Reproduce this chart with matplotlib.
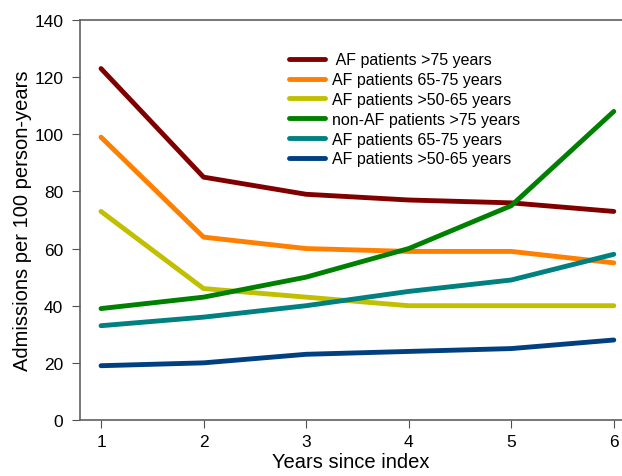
import matplotlib
matplotlib.use("Agg")
import matplotlib.pyplot as plt

plt.rcParams['font.family'] = ['Liberation Sans', 'DejaVu Sans']

# data
years = [1, 2, 3, 4, 5, 6]
labels = [" AF patients >75 years", "AF patients 65-75 years", "AF patients >50-65 years",
          "non-AF patients >75 years", "AF patients 65-75 years", "AF patients >50-65 years"]
af_75 = [123, 85, 79, 77, 76, 73]
af_65_75 = [99, 64, 60, 59, 59, 55]
af_50_65 = [73, 46, 43, 40, 40, 40]
nonaf_75 = [39, 43, 50, 60, 75, 108]
nonaf_65_75 = [33, 36, 40, 45, 49, 58]
nonaf_50_65 = [19, 20, 23, 24, 25, 28]
colors = ["#800000", "#ff8000", "#c0c000", "#008000", "#008080", "#003f80"]

fig = plt.figure(figsize=(6.22, 4.77), dpi=100)
ax = fig.add_axes([80/622, 56/477, 1 - 80/622, 400/477])

series = [af_75, af_65_75, af_50_65, nonaf_75, nonaf_65_75, nonaf_50_65]
for vals, lab, col in zip(series, labels, colors):
    ax.plot(years, vals, color=col, lw=3.5, label=lab, solid_capstyle='round')

ax.set_xlim(0.795, 6.08)
ax.set_ylim(0, 140)
ax.set_xticks(years)
ax.set_yticks(range(0, 141, 20))
ax.spines['right'].set_visible(False)
for s in ['left', 'bottom', 'top']:
    ax.spines[s].set_color('#606060')
    ax.spines[s].set_linewidth(1.2)
ax.tick_params(direction='out', length=6, color='#505050', labelsize=12.5, pad=4)
ax.tick_params(axis='y', pad=6)
ax.set_xlabel("Years since index", fontsize=14.5, labelpad=2)
ax.set_ylabel("Admissions per 100 person-years", fontsize=14.5, labelpad=2)

ax.legend(loc='upper left', bbox_to_anchor=(0.36, 0.955), frameon=False, fontsize=11.5,
          handlelength=2.2, handletextpad=0.45, labelspacing=0.3)

fig.savefig("out.png", dpi=100)
